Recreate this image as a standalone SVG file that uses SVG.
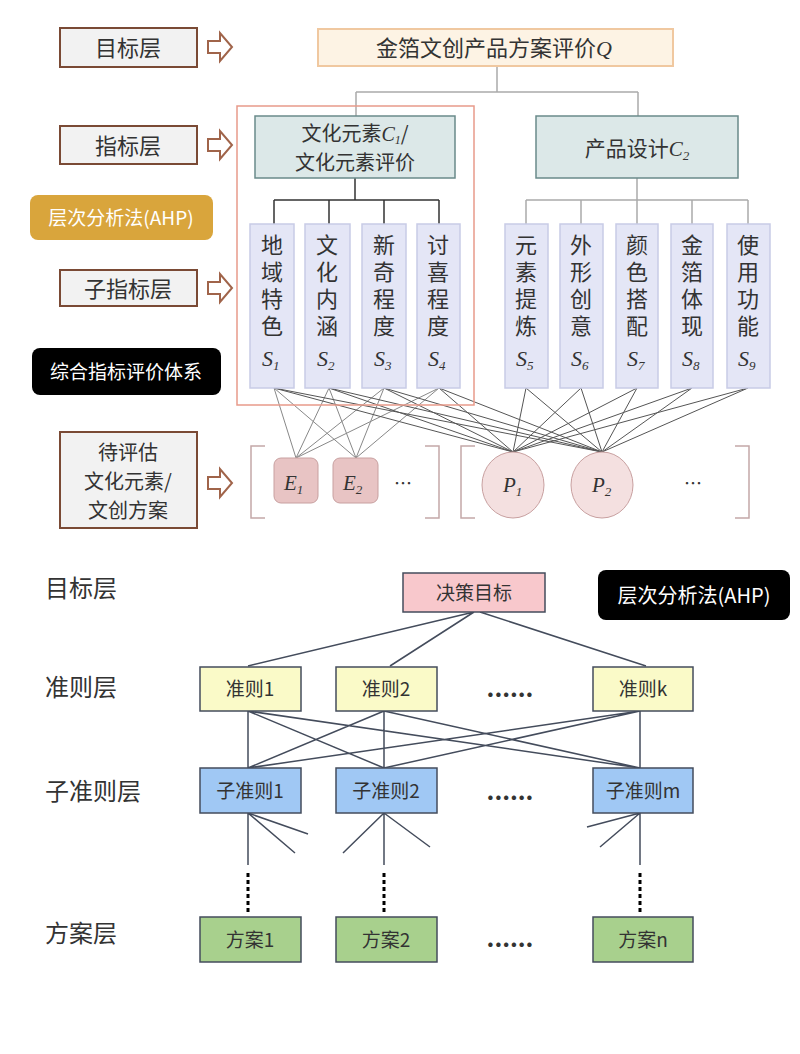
<svg xmlns="http://www.w3.org/2000/svg" width="800" height="1054" viewBox="0 0 800 1054">
<style>
text{font-family:"Noto Sans CJK SC","Liberation Sans",sans-serif;fill:#333}
.lab{fill:#f2f2f2;stroke:#7a4a35;stroke-width:2}
.arr{fill:#fff;stroke:#a0644a;stroke-width:2}
.s{fill:#e4e6f6;stroke:#c8cbe6;stroke-width:1.5}
.c{fill:#dce8e8;stroke:#6a8a8a;stroke-width:1.5}
.it{font-family:"Liberation Serif",serif;font-style:italic}
.v{writing-mode:tb;letter-spacing:5px}
.br{fill:none;stroke:#c4a8a8;stroke-width:1.5}
.b{stroke:#444c5c;stroke-width:1.5;fill:none}
</style>
<rect width="800" height="1054" fill="#fff"/>
<g id="labels">
<rect class="lab" x="60" y="28" width="137" height="39"/><text x="128" y="56" font-size="22" text-anchor="middle">目标层</text>
<rect class="lab" x="60" y="126" width="137" height="38"/><text x="128" y="154" font-size="22" text-anchor="middle">指标层</text>
<rect class="lab" x="60" y="270" width="137" height="36"/><text x="128" y="297" font-size="22" text-anchor="middle">子指标层</text>
<rect class="lab" x="60" y="432" width="137" height="96"/><text x="128" y="460" font-size="20" text-anchor="middle">待评估</text><text x="128" y="489" font-size="20" text-anchor="middle">文化元素/</text><text x="128" y="518" font-size="20" text-anchor="middle">文创方案</text>
<path class="arr" d="M208,41h12v-8l12,14l-12,14v-8h-12z"/>
<path class="arr" d="M208,139h12v-8l12,14l-12,14v-8h-12z"/>
<path class="arr" d="M208,282h12v-8l12,14l-12,14v-8h-12z"/>
<path class="arr" d="M208,477h12v-8l12,14l-12,14v-8h-12z"/>
<rect x="30" y="195" width="183" height="45" rx="8" fill="#d9a53c"/><text x="121" y="225" font-size="19" text-anchor="middle" style="fill:#fff">层次分析法(AHP)</text>
<rect x="32" y="348" width="189" height="47" rx="8" fill="#000"/><text x="126" y="379" font-size="19" text-anchor="middle" style="fill:#fff">综合指标评价体系</text>
</g>
<g id="connectors">
<path d="M497,66V92M356,92H638M356,92V116M638,92V116" stroke="#aaa" stroke-width="1.5" fill="none"/>
<path d="M355,178V200M274,200H439M274,200V224M329,200V224M384,200V224M439,200V224" stroke="#333" stroke-width="1.5" fill="none"/>
<path d="M637,178V200M526,200H748M526,200V224M581,200V224M637,200V224M692,200V224M748,200V224" stroke="#aaa" stroke-width="1.5" fill="none"/>
<g stroke="#888" stroke-width="1">
<path d="M274,388L296,458M274,388L356,458M329,388L296,458M329,388L356,458M384,388L296,458M384,388L356,458M439,388L296,458M439,388L356,458"/>
</g>
<g stroke="#555" stroke-width="1">
<path d="M274,388L513,452M274,388L602,452M329,388L513,452M329,388L602,452M384,388L513,452M384,388L602,452M439,388L513,452M439,388L602,452"/>
<path d="M526,388L513,452M526,388L602,452M581,388L513,452M581,388L602,452M637,388L513,452M637,388L602,452M692,388L513,452M692,388L602,452M748,388L513,452M748,388L602,452"/>
</g>
<g class="b">
<path d="M474,612L248,666M474,612L390,666M480,612L646,666"/>
<path d="M248,711V768M248,711L384,768M248,711L640,768M384,711L248,768M384,711V768M384,711L640,768M640,711L248,768M640,711L384,768M640,711V768"/>
<path d="M248,813V865M248,813L295,853M248,813L308,834M384,813V865M384,813L343,853M384,813L430,847M640,813V865M640,813L600,847M640,813L587,827"/>
</g>
<path d="M248,873V913M384,873V913M640,873V913" stroke="#000" stroke-width="3" stroke-dasharray="4,3"/>
</g>
<g id="q"><rect x="318" y="29" width="355" height="37" fill="#fdf3e4" stroke="#f0c8a0" stroke-width="2"/><text x="494" y="56" font-size="22" text-anchor="middle">金箔文创产品方案评价<tspan class="it">Q</tspan></text></g>
<rect x="237" y="106" width="237" height="299" fill="none" stroke="#e89a8a" stroke-width="1.5"/>
<g id="c1"><rect class="c" x="255" y="116" width="200" height="62"/><text x="355" y="141" font-size="20" text-anchor="middle">文化元素<tspan class="it">C</tspan><tspan class="it" font-size="12" dy="3">1</tspan><tspan dy="-3">/</tspan></text><text x="355" y="170" font-size="20" text-anchor="middle">文化元素评价</text></g>
<g id="c2"><rect class="c" x="536" y="116" width="202" height="62"/><text x="637" y="156" font-size="21" text-anchor="middle">产品设计<tspan class="it">C</tspan><tspan class="it" font-size="13" dy="4">2</tspan></text></g>
<g font-size="22">
<g id="s1"><rect class="s" x="250" y="224" width="44" height="164"/><text class="v" x="272" y="234">地域特色</text><text class="it" x="262" y="366">S<tspan font-size="13" dy="4">1</tspan></text></g>
<g id="s2"><rect class="s" x="305" y="224" width="45" height="164"/><text class="v" x="327" y="234">文化内涵</text><text class="it" x="317" y="366">S<tspan font-size="13" dy="4">2</tspan></text></g>
<g id="s3"><rect class="s" x="362" y="224" width="44" height="164"/><text class="v" x="384" y="234">新奇程度</text><text class="it" x="374" y="366">S<tspan font-size="13" dy="4">3</tspan></text></g>
<g id="s4"><rect class="s" x="417" y="224" width="43" height="164"/><text class="v" x="438" y="234">讨喜程度</text><text class="it" x="428" y="366">S<tspan font-size="13" dy="4">4</tspan></text></g>
<g id="s5"><rect class="s" x="505" y="224" width="43" height="164"/><text class="v" x="526" y="234">元素提炼</text><text class="it" x="516" y="366">S<tspan font-size="13" dy="4">5</tspan></text></g>
<g id="s6"><rect class="s" x="560" y="224" width="43" height="164"/><text class="v" x="581" y="234">外形创意</text><text class="it" x="571" y="366">S<tspan font-size="13" dy="4">6</tspan></text></g>
<g id="s7"><rect class="s" x="616" y="224" width="42" height="164"/><text class="v" x="637" y="234">颜色搭配</text><text class="it" x="627" y="366">S<tspan font-size="13" dy="4">7</tspan></text></g>
<g id="s8"><rect class="s" x="671" y="224" width="42" height="164"/><text class="v" x="692" y="234">金箔体现</text><text class="it" x="682" y="366">S<tspan font-size="13" dy="4">8</tspan></text></g>
<g id="s9"><rect class="s" x="727" y="224" width="43" height="164"/><text class="v" x="748" y="234">使用功能</text><text class="it" x="738" y="366">S<tspan font-size="13" dy="4">9</tspan></text></g>
</g>
<path class="br" d="M265,446H251V518H265M425,446H439V518H425M475,446H461V518H475M735,446H749V518H735"/>
<g id="e1"><rect x="274" y="458" width="44" height="45" rx="7" fill="#e8c4c4" stroke="#c8a0a0"/><text class="it" x="284" y="490" font-size="21">E<tspan font-size="13" dy="4">1</tspan></text></g>
<g id="e2"><rect x="333" y="458" width="45" height="45" rx="7" fill="#e8c4c4" stroke="#c8a0a0"/><text class="it" x="343" y="490" font-size="21">E<tspan font-size="13" dy="4">2</tspan></text></g>
<text x="403" y="490" font-size="18" text-anchor="middle">…</text>
<g id="p1"><ellipse cx="513" cy="485" rx="31" ry="33" fill="#f4e0e0" stroke="#c8a0a0"/><text class="it" x="503" y="492" font-size="21">P<tspan font-size="13" dy="4">1</tspan></text></g>
<g id="p2"><ellipse cx="602" cy="485" rx="31" ry="33" fill="#f4e0e0" stroke="#c8a0a0"/><text class="it" x="592" y="492" font-size="21">P<tspan font-size="13" dy="4">2</tspan></text></g>
<text x="693" y="490" font-size="18" text-anchor="middle">…</text>
<g font-size="24">
<text x="45" y="597">目标层</text><text x="45" y="696">准则层</text><text x="45" y="800">子准则层</text><text x="45" y="942">方案层</text>
</g>
<g id="goal"><rect x="403" y="573" width="142" height="39" fill="#f8c8cc" stroke="#444c5c" stroke-width="1.5"/><text x="474" y="600" font-size="19" text-anchor="middle">决策目标</text></g>
<rect x="598" y="570" width="192" height="50" rx="8" fill="#000"/><text x="694" y="603" font-size="20" text-anchor="middle" style="fill:#fff">层次分析法(AHP)</text>
<g font-size="19" text-anchor="middle">
<g id="k1"><rect x="200" y="667" width="101" height="44" fill="#fafac8" stroke="#444c5c" stroke-width="1.5"/><text x="250" y="696">准则1</text></g>
<g id="k2"><rect x="336" y="667" width="101" height="44" fill="#fafac8" stroke="#444c5c" stroke-width="1.5"/><text x="386" y="696">准则2</text></g>
<g id="kk"><rect x="593" y="667" width="100" height="44" fill="#fafac8" stroke="#444c5c" stroke-width="1.5"/><text x="643" y="696">准则k</text></g>
<g id="m1"><rect x="200" y="768" width="101" height="45" fill="#a0c8f4" stroke="#444c5c" stroke-width="1.5"/><text x="250" y="798">子准则1</text></g>
<g id="m2"><rect x="336" y="768" width="101" height="45" fill="#a0c8f4" stroke="#444c5c" stroke-width="1.5"/><text x="386" y="798">子准则2</text></g>
<g id="mm"><rect x="593" y="768" width="100" height="45" fill="#a0c8f4" stroke="#444c5c" stroke-width="1.5"/><text x="643" y="798">子准则m</text></g>
<g id="n1"><rect x="200" y="917" width="101" height="45" fill="#a8d08d" stroke="#444c5c" stroke-width="1.5"/><text x="250" y="947">方案1</text></g>
<g id="n2"><rect x="336" y="917" width="101" height="45" fill="#a8d08d" stroke="#444c5c" stroke-width="1.5"/><text x="386" y="947">方案2</text></g>
<g id="nn"><rect x="593" y="917" width="100" height="45" fill="#a8d08d" stroke="#444c5c" stroke-width="1.5"/><text x="643" y="947">方案n</text></g>
</g>
<g font-size="24" font-weight="bold" text-anchor="middle"><text x="510" y="697">......</text><text x="510" y="800">......</text><text x="510" y="947">......</text></g>
</svg>
